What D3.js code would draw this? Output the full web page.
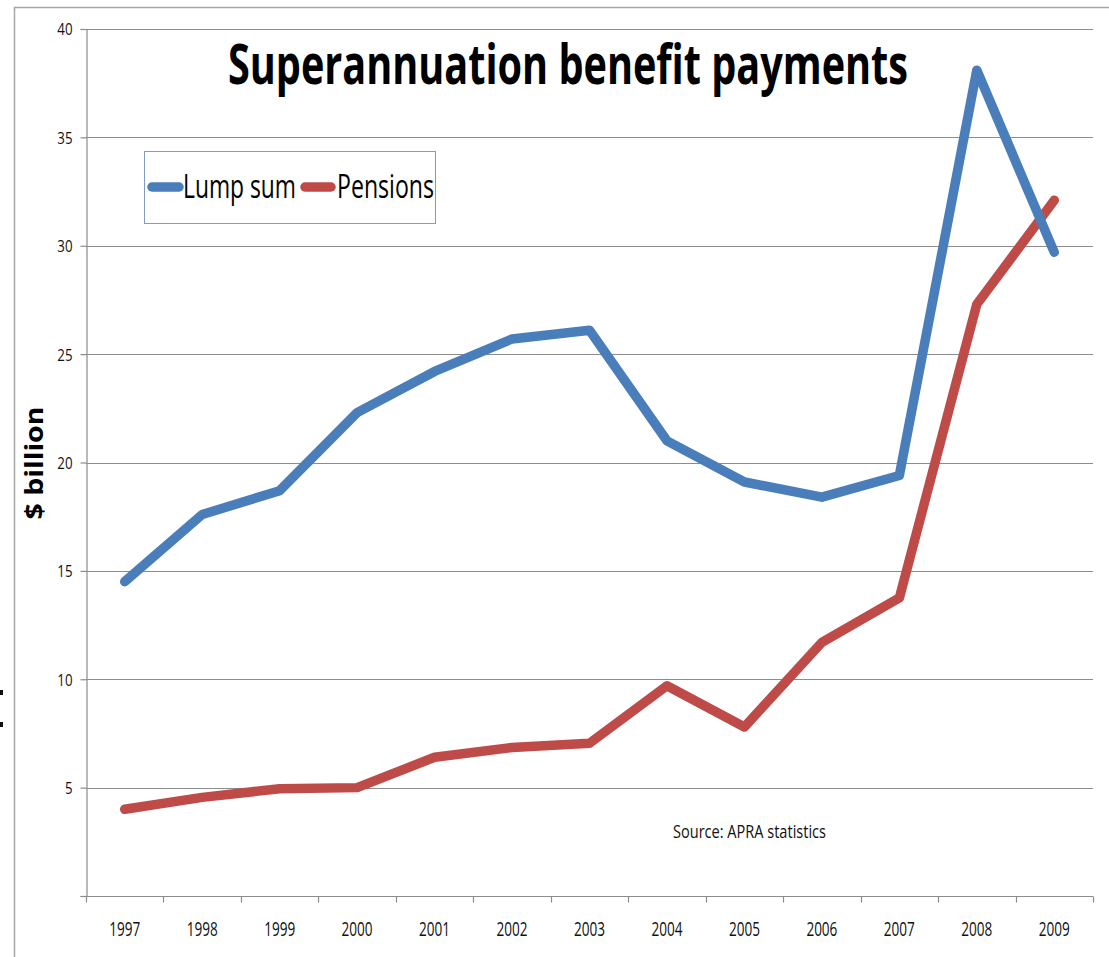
<!DOCTYPE html>
<html>
<head>
<meta charset="utf-8">
<script src="https://cdn.jsdelivr.net/npm/d3@7"></script>
<style>
  html, body { margin: 0; padding: 0; background: #ffffff; }
  svg { display: block; }
</style>
</head>
<body>
<div id="chart"></div>
<script>
// Data ($ billion)
const years = ['1997', '1998', '1999', '2000', '2001', '2002', '2003',
  '2004', '2005', '2006', '2007', '2008', '2009']
const lumpSum = [14.5, 17.6, 18.7, 22.3, 24.2, 25.7, 26.1, 21.0, 19.1, 18.4, 19.4, 38.1, 29.7]
const pensions = [4.0, 4.55, 4.95, 5.0, 6.4, 6.85, 7.05, 9.7, 7.8, 11.7, 13.75, 27.3, 32.1]
const yTicks = [0, 5, 10, 15, 20, 25, 30, 35, 40]
const seriesNames = ['Lump sum', 'Pensions']

const width = 1109
const height = 957
const plot = { left: 86, right: 1093, top: 29, bottom: 896 }

const colors = {
  lump: '#4a7ebb',
  pension: '#be4b48',
  grid: '#8c8c8c',
  frame: '#a6a6a6'
}

const font = '"Open Sans", "Noto Sans", sans-serif'

const svg = d3.select('#chart')
  .append('svg')
  .attr('width', width)
  .attr('height', height)

// Outer chart frame (only top and left edges visible in the crop)
svg.append('path')
  .attr('d', `M14.5,${height}V7.5H${width}`)
  .attr('fill', 'none')
  .attr('stroke', colors.frame)
  .attr('stroke-width', 1.5)

// stray marks at the left edge
svg.selectAll('rect.stray')
  .data([690, 722])
  .enter()
  .append('rect')
  .attr('class', 'stray')
  .attr('x', 0)
  .attr('y', d => d)
  .attr('width', 3)
  .attr('height', 5)
  .attr('fill', '#111')

// Scales
const x = d3.scaleBand()
  .domain(years)
  .range([plot.left, plot.right])
  .padding(0)

const y = d3.scaleLinear()
  .domain([0, 40])
  .range([plot.bottom, plot.top])

const xc = d => x(d) + x.bandwidth() / 2

// Gridlines
svg.append('g')
  .selectAll('line')
  .data(yTicks.filter(d => d > 0))
  .enter()
  .append('line')
  .attr('x1', plot.left)
  .attr('x2', plot.right)
  .attr('y1', d => Math.round(y(d)) + 0.5)
  .attr('y2', d => Math.round(y(d)) + 0.5)
  .attr('stroke', colors.grid)
  .attr('stroke-width', 1.2)

// Y axis
const yAxis = svg.append('g')
  .attr('transform', `translate(${plot.left + 0.5},0)`)
  .call(d3.axisLeft(y)
    .tickValues(yTicks)
    .tickSize(6)
    .tickPadding(8)
    .tickFormat(d => d === 0 ? '' : d))

yAxis.select('.domain').attr('stroke', colors.grid).attr('stroke-width', 1.2)
yAxis.selectAll('.tick line').attr('stroke', colors.grid).attr('stroke-width', 1.2)
yAxis.selectAll('.tick text')
  .attr('font-family', font)
  .attr('font-size', 16.5)
  .attr('fill', '#111')
  .attr('dy', '0.36em')
  .attr('textLength', d => String(d).length * 7.6)
  .attr('lengthAdjust', 'spacingAndGlyphs')

// X axis: baseline, ticks at band edges, labels at band centres
const xAxis = svg.append('g')
  .attr('transform', `translate(0,${plot.bottom + 0.5})`)

xAxis.append('line')
  .attr('x1', plot.left)
  .attr('x2', plot.right)
  .attr('stroke', colors.grid)
  .attr('stroke-width', 1.2)

const edges = years.map(d => x(d)).concat([plot.right])
xAxis.selectAll('line.tick')
  .data(edges)
  .enter()
  .append('line')
  .attr('class', 'tick')
  .attr('x1', d => Math.round(d) + 0.5)
  .attr('x2', d => Math.round(d) + 0.5)
  .attr('y1', 0)
  .attr('y2', 6)
  .attr('stroke', colors.grid)
  .attr('stroke-width', 1.2)

xAxis.selectAll('text')
  .data(years)
  .enter()
  .append('text')
  .attr('x', d => xc(d))
  .attr('y', 39)
  .attr('text-anchor', 'middle')
  .attr('font-family', font)
  .attr('font-size', 19.5)
  .attr('fill', '#111')
  .attr('textLength', 31)
  .attr('lengthAdjust', 'spacingAndGlyphs')
  .text(d => d)

// Lines
const line = d3.line()
  .x((d, i) => xc(years[i]))
  .y(d => y(d))

svg.append('path')
  .datum(pensions)
  .attr('d', line)
  .attr('fill', 'none')
  .attr('stroke', colors.pension)
  .attr('stroke-width', 9.5)
  .attr('stroke-linejoin', 'round')
  .attr('stroke-linecap', 'round')

svg.append('path')
  .datum(lumpSum)
  .attr('d', line)
  .attr('fill', 'none')
  .attr('stroke', colors.lump)
  .attr('stroke-width', 9.5)
  .attr('stroke-linejoin', 'round')
  .attr('stroke-linecap', 'round')

// Title (narrow letterforms: scaled up vertically, squeezed horizontally)
svg.append('text')
  .attr('transform', 'scale(1,1.2)')
  .attr('x', 228)
  .attr('y', 84 / 1.2)
  .attr('font-family', font)
  .attr('font-weight', 700)
  .attr('font-size', 46)
  .attr('fill', '#000')
  .attr('textLength', 680)
  .attr('lengthAdjust', 'spacingAndGlyphs')
  .text('Superannuation benefit payments')

// Y axis title
svg.append('text')
  .attr('transform', 'translate(43,463) rotate(-90)')
  .attr('text-anchor', 'middle')
  .attr('font-family', font)
  .attr('font-weight', 700)
  .attr('font-size', 25)
  .attr('fill', '#000')
  .attr('textLength', 113)
  .attr('lengthAdjust', 'spacingAndGlyphs')
  .text('$ billion')

// Legend
const legend = svg.append('g')
legend.append('rect')
  .attr('x', 144.5)
  .attr('y', 151.5)
  .attr('width', 291)
  .attr('height', 72)
  .attr('fill', '#fff')
  .attr('stroke', '#7f9cc4')
  .attr('stroke-width', 1)

const legendItems = [
  { name: seriesNames[0], color: colors.lump, x0: 152, x1: 179, tx: 183, tw: 113 },
  { name: seriesNames[1], color: colors.pension, x0: 305, x1: 331, tx: 337, tw: 97 }
]

legendItems.forEach(item => {
  legend.append('line')
    .attr('x1', item.x0)
    .attr('x2', item.x1)
    .attr('y1', 187)
    .attr('y2', 187)
    .attr('stroke', item.color)
    .attr('stroke-width', 9.5)
    .attr('stroke-linecap', 'round')
  legend.append('text')
    .attr('x', item.tx)
    .attr('y', 198)
    .attr('font-family', font)
    .attr('font-size', 33)
    .attr('fill', '#000')
    .attr('textLength', item.tw)
    .attr('lengthAdjust', 'spacingAndGlyphs')
    .text(item.name)
})

// Source note
svg.append('text')
  .attr('x', 673)
  .attr('y', 838)
  .attr('font-family', font)
  .attr('font-size', 18)
  .attr('fill', '#111')
  .attr('textLength', 153)
  .attr('lengthAdjust', 'spacingAndGlyphs')
  .text('Source: APRA statistics')
</script>
</body>
</html>
